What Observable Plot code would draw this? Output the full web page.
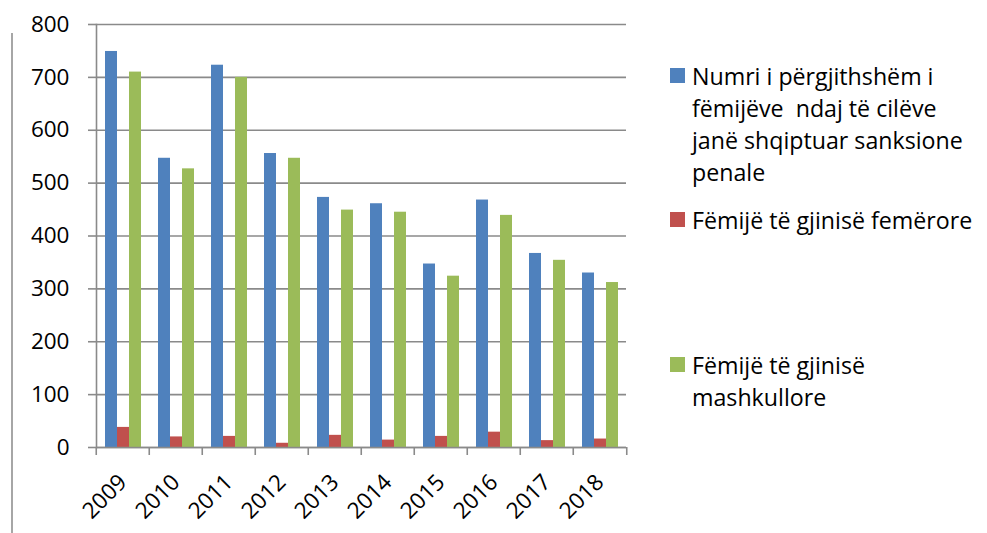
<!DOCTYPE html>
<html><head><meta charset="utf-8">
<script src="https://cdn.jsdelivr.net/npm/d3@7"></script>
<script src="https://cdn.jsdelivr.net/npm/@observablehq/plot@0.6"></script>
<style>
body{margin:0;background:#fff;}
#wrap{position:relative;width:987px;height:533px;font-family:"Open Sans",sans-serif;overflow:hidden;}
#wrap svg{position:absolute;left:0;top:0;}
.border{position:absolute;left:11px;top:33px;width:1.5px;height:500px;background:#a6a6a6;}
.sw{position:absolute;width:15px;height:15px;left:670px;}
.lt{position:absolute;left:692px;font-size:23.2px;line-height:32px;color:#000;white-space:pre;}
</style></head><body>
<div id="wrap"><div class="border"></div></div>
<script>
const years = ["2009","2010","2011","2012","2013","2014","2015","2016","2017","2018"];
const seriesKeys = ["total","female","male"];
const seriesLabels = [
  "Numri i përgjithshëm i\nfëmijëve  ndaj të cilëve\njanë shqiptuar sanksione\npenale",
  "Fëmijë të gjinisë femërore",
  "Fëmijë të gjinisë\nmashkullore"
];
const totalValues  = [749, 547, 723, 556, 473, 461, 347, 468, 367, 330];
const femaleValues = [38, 20, 21, 8, 23, 14, 21, 29, 13, 16];
const maleValues   = [710, 527, 700, 547, 449, 445, 324, 439, 354, 312];
const yTicks = [0, 100, 200, 300, 400, 500, 600, 700, 800];
const colors = ["#4F81BD", "#C0504D", "#9BBB59"];

const valueArrays = [totalValues, femaleValues, maleValues];
const data = years.flatMap((yr, i) => seriesKeys.map((k, j) => ({year: yr, series: k, value: valueArrays[j][i]})));

const W = 987, H = 533, mL = 93, mR = 359;
const step = (W - mL - mR) / years.length;
const grey = "#8a8a8a";
const fs = 22.5;

const plot = Plot.plot({
  width: W, height: H,
  marginLeft: mL, marginRight: mR, marginTop: 24, marginBottom: 86,
  style: {fontFamily: "Open Sans", fontSize: fs + "px", color: "#000", background: "transparent", overflow: "visible"},
  fx: {domain: years, padding: 0, label: null, axis: null},
  x: {domain: seriesKeys, paddingInner: 0, paddingOuter: 0.685, axis: null},
  y: {domain: [0, 800], axis: null},
  color: {domain: seriesKeys, range: colors},
  marks: [
    Plot.gridY(yTicks, {stroke: grey, strokeOpacity: 1, strokeWidth: 1.6}),
    Plot.barY(data, {fx: "year", x: "series", y: "value", fill: "series"}),
    Plot.ruleY([0], {stroke: grey, strokeWidth: 1.6}),
    Plot.frame({anchor: "left", facetAnchor: "left", stroke: grey, strokeWidth: 1.6}),
    Plot.axisY({ticks: yTicks, tickSize: 8, tickPadding: 19, stroke: grey, strokeWidth: 1.6, fill: "#000", label: null, fontSize: fs}),
    Plot.axisFx({anchor: "bottom", tickSize: 0, tickPadding: 31, tickRotate: -45, label: null, fill: "#000", fontSize: fs}),
    Plot.axisFx({anchor: "bottom", tickSize: 8, text: null, dx: -step / 2, stroke: grey, strokeWidth: 1.6, label: null}),
    Plot.axisFx({anchor: "bottom", ticks: [years[years.length - 1]], tickSize: 8, text: null, dx: step / 2, stroke: grey, strokeWidth: 1.6, label: null})
  ]
});
const wrap = document.getElementById("wrap");
wrap.appendChild(plot);

const legendTops = [60, 204, 349];
seriesKeys.forEach((k, j) => {
  const sw = document.createElement("div");
  sw.className = "sw";
  sw.style.top = (legendTops[j] + 8) + "px";
  sw.style.background = colors[j];
  wrap.appendChild(sw);
  const t = document.createElement("div");
  t.className = "lt";
  t.style.top = legendTops[j] + "px";
  t.textContent = seriesLabels[j];
  wrap.appendChild(t);
});
</script>
</body></html>
